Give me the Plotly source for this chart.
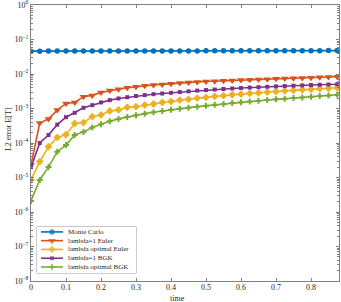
import plotly.graph_objects as go

time = [round(0.025 * i, 3) for i in range(36)]

monte_carlo = [0.0460, 0.0460, 0.0461, 0.0461, 0.0462, 0.0462, 0.0462, 0.0463, 0.0463, 0.0463,
               0.0464, 0.0464, 0.0465, 0.0465, 0.0466, 0.0466, 0.0467, 0.0467, 0.0468, 0.0468,
               0.0469, 0.0469, 0.0470, 0.0470, 0.0471, 0.0471, 0.0472, 0.0472, 0.0473, 0.0473,
               0.0474, 0.0474, 0.0475, 0.0475, 0.0476, 0.0476]

euler_l1 = [2.3e-5, 3.8e-4, 5.0e-4, 9.0e-4, 1.4e-3, 1.5e-3, 2.2e-3, 2.4e-3, 2.9e-3, 3.3e-3,
            3.6e-3, 4.0e-3, 4.3e-3, 4.6e-3, 4.8e-3, 5.0e-3, 5.25e-3, 5.45e-3, 5.7e-3, 5.9e-3,
            6.05e-3, 6.2e-3, 6.35e-3, 6.5e-3, 6.65e-3, 6.8e-3, 6.95e-3, 7.1e-3, 7.25e-3, 7.4e-3,
            7.55e-3, 7.7e-3, 7.85e-3, 8.0e-3, 8.15e-3, 8.3e-3]

euler_opt = [8.5e-6, 2.9e-5, 7.8e-5, 1.45e-4, 1.75e-4, 3.7e-4, 3.9e-4, 5.8e-4, 6.5e-4, 8.5e-4,
             9.1e-4, 1.08e-3, 1.13e-3, 1.26e-3, 1.35e-3, 1.5e-3, 1.6e-3, 1.75e-3, 1.85e-3, 2.0e-3,
             2.1e-3, 2.25e-3, 2.35e-3, 2.5e-3, 2.6e-3, 2.75e-3, 2.85e-3, 3.0e-3, 3.1e-3, 3.25e-3,
             3.35e-3, 3.5e-3, 3.6e-3, 3.75e-3, 3.85e-3, 4.0e-3]

bgk_l1 = [2.0e-5, 1.0e-4, 1.7e-4, 3.4e-4, 5.6e-4, 7.5e-4, 1.05e-3, 1.25e-3, 1.5e-3, 1.75e-3,
          1.95e-3, 2.12e-3, 2.3e-3, 2.45e-3, 2.6e-3, 2.72e-3, 2.85e-3, 3.0e-3, 3.15e-3, 3.3e-3,
          3.42e-3, 3.55e-3, 3.68e-3, 3.8e-3, 3.92e-3, 4.04e-3, 4.15e-3, 4.26e-3, 4.37e-3, 4.48e-3,
          4.58e-3, 4.68e-3, 4.78e-3, 4.88e-3, 4.97e-3, 5.05e-3]

bgk_opt = [2.1e-6, 8.5e-6, 2.0e-5, 5.6e-5, 8.7e-5, 1.7e-4, 2.1e-4, 2.8e-4, 3.5e-4, 4.3e-4,
           5.0e-4, 5.7e-4, 6.4e-4, 7.1e-4, 7.8e-4, 8.5e-4, 9.2e-4, 9.9e-4, 1.06e-3, 1.13e-3,
           1.2e-3, 1.28e-3, 1.36e-3, 1.44e-3, 1.52e-3, 1.6e-3, 1.68e-3, 1.76e-3, 1.84e-3, 1.92e-3,
           2.0e-3, 2.1e-3, 2.2e-3, 2.3e-3, 2.4e-3, 2.5e-3]

x_ticks = [0, 0.1, 0.2, 0.3, 0.4, 0.5, 0.6, 0.7, 0.8]
x_ticklabels = ["0", "0.1", "0.2", "0.3", "0.4", "0.5", "0.6", "0.7", "0.8"]
y_exponents = [-8, -7, -6, -5, -4, -3, -2, -1, 0]

names = ["Monte Carlo", "lambda=1 Euler", "lambda optimal Euler", "lambda=1 BGK", "lambda optimal BGK"]
values = [monte_carlo, euler_l1, euler_opt, bgk_l1, bgk_opt]
colors = ["#0072BD", "#D95319", "#EDB120", "#7E2F8E", "#77AC30"]
symbols = ["circle", "triangle-down", "diamond", "square", "cross"]
sizes = [5.5, 7, 6, 4, 5]

y_tickvals = [10.0 ** e for e in y_exponents]
y_ticktext = ["10<sup>" + (("\u2212" + str(-e)) if e < 0 else str(e)) + "</sup>" for e in y_exponents]
minor_vals = [k * 10.0 ** e for e in y_exponents[:-1] for k in range(2, 10)]

font = "Liberation Serif, DejaVu Serif, serif"
txt = "#262626"
fig = go.Figure()
for name, vals, color, sym, size in zip(names, values, colors, symbols, sizes):
    fig.add_trace(go.Scatter(
        x=time, y=vals, name=name, mode="lines+markers", showlegend=False,
        line=dict(color=color, width=1.6),
        marker=dict(color=color, symbol=sym, size=size, line=dict(width=0)),
    ))

# compact legend drawn in its own small overlay axes (row index vs. sample span)
for i, (name, color, sym, size) in enumerate(zip(names, colors, symbols, sizes)):
    fig.add_trace(go.Scatter(
        x=[4, 15, 26], y=[i, i, i], xaxis="x2", yaxis="y2", mode="lines+markers",
        showlegend=False, hoverinfo="skip",
        line=dict(color=color, width=1.6),
        marker=dict(color=color, symbol=sym, size=[0, size, 0], line=dict(width=0)),
    ))

axis_common = dict(
    showline=True, linecolor="#808080", linewidth=1, mirror="allticks",
    ticks="inside", tickcolor="#808080", showgrid=False, zeroline=False,
    tickfont=dict(family=font, size=8, color=txt), automargin=False,
    ticklabeloverflow="allow",
)

fig.update_layout(
    xaxis=dict(range=[0, 0.88], tickvals=x_ticks, ticktext=x_ticklabels, ticklen=3,
               ticklabelstandoff=-2, **axis_common),
    yaxis=dict(type="log", range=[-8.0001, 0.0001], tickvals=y_tickvals, ticktext=y_ticktext,
               ticklen=3,
               minor=dict(ticks="inside", ticklen=2, tickcolor="#808080", showgrid=False,
                          tickvals=minor_vals),
               **axis_common),
    xaxis2=dict(domain=[0.0195, 0.341], range=[0, 99], anchor="y2", visible=False,
                fixedrange=True),
    yaxis2=dict(domain=[0.029, 0.196], range=[4.686, -0.571], anchor="x2", visible=False,
                fixedrange=True),
    shapes=[dict(type="rect", xref="x2 domain", yref="y2 domain", x0=0, x1=1, y0=0, y1=1,
                 line=dict(color="#808080", width=0.8), fillcolor="white", layer="below")],
    width=341, height=302,
    margin=dict(l=31, r=2, t=5, b=21),
    plot_bgcolor="white", paper_bgcolor="white",
    hovermode=False,
    font=dict(family=font, size=8, color=txt),
    annotations=[
        dict(text="time", xref="paper", yref="paper", x=0.477, y=-0.0616,
             xanchor="center", yanchor="middle", showarrow=False,
             font=dict(family=font, size=8, color=txt)),
        dict(text="L2 error E[T]", xref="paper", yref="paper", x=-0.075, y=0.55,
             xanchor="center", yanchor="middle", textangle=-90, showarrow=False,
             font=dict(family=font, size=8, color=txt)),
    ] + [
        dict(text=name, xref="x2", yref="y2", x=28.7, y=i, xanchor="left", yanchor="middle",
             showarrow=False, font=dict(family=font, size=7, color=txt))
        for i, name in enumerate(names)
    ],
)

fig.write_html("out.html", config={"displayModeBar": False},
               post_script="document.body.style.margin='0px';")
